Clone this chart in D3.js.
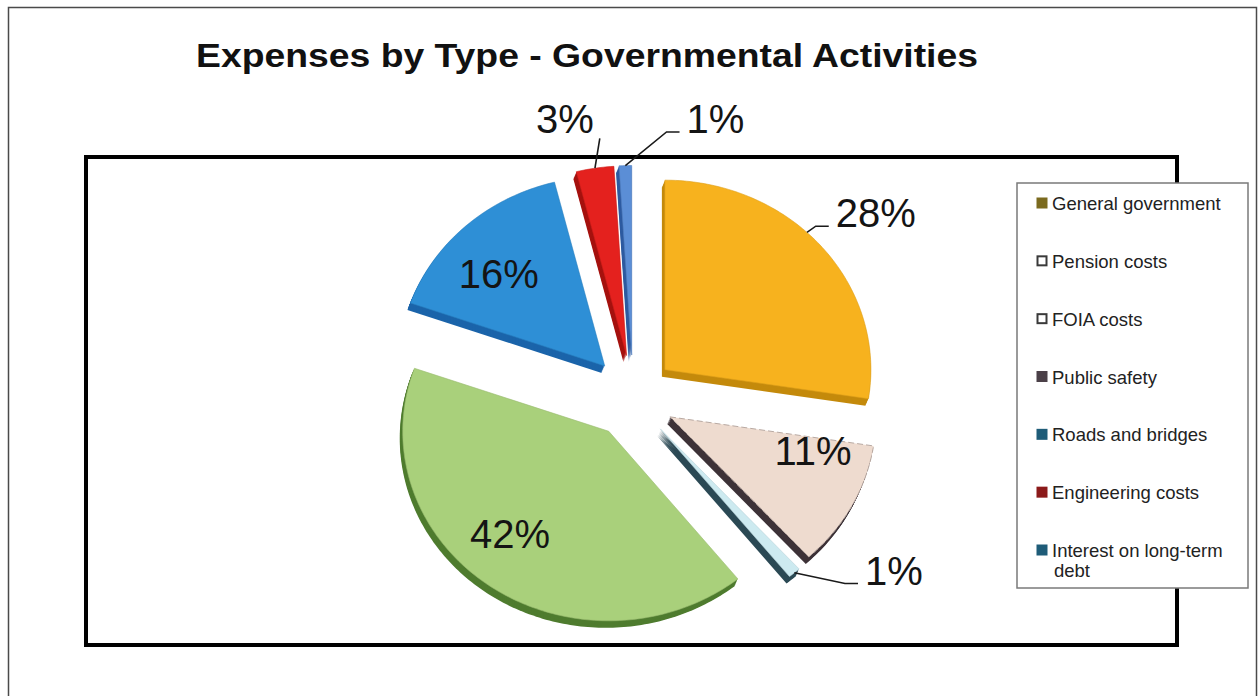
<!DOCTYPE html>
<html><head><meta charset="utf-8">
<script src="https://cdn.jsdelivr.net/npm/d3@7"></script>
<style>html,body{margin:0;padding:0;background:#fff;} svg{display:block;}</style>
</head><body><svg id="c" width="1260" height="696"></svg>
<script>
// ---------------- data ----------------
const title = "Expenses by Type - Governmental Activities";
const categories = ["General government","Pension costs","FOIA costs","Public safety","Roads and bridges","Engineering costs","Interest on long-term debt"];
const values = [28, 11, 1, 42, 16, 3, 1];
const valueLabels = ["28%","11%","1%","42%","16%","3%","1%"];
const legendLines = [["General government"],["Pension costs"],["FOIA costs"],["Public safety"],["Roads and bridges"],["Engineering costs"],["Interest on long-term","debt"]];

// ---------------- styles ----------------
const topColors  = ["#F7B21E","#EEDBCF","#CDEAF0","#A9D07B","#2E8FD6","#E4211E","#5B8ED6"];
const sideColors = ["#C48A0C","#3E3338","#2C4A55","#4F7C2F","#1B64AA","#A5120F","#2E5BA0"];
const legendFill = ["#7B6A1E","#FFFFFF","#FFFFFF","#4B4048","#1E5C78","#8B1A1A","#1E5C78"];
const legendStroke=["#7B6A1E","#3a3a3a","#3a3a3a","#4B4048","#1E5C78","#8B1A1A","#1E5C78"];

// label layout: angle offset (deg) from slice mid-angle and radius factor
const labelLayout = [
  {off: 4.3,  rf:1.27,  leader:"left",  startOff:-5.8},
  {off:-8,    rf:0.74,  leader:null},
  {off:-13.5, rf:1.40,  leader:"left",  startOff:0},
  {off: 2.6,  rf:0.78,  leader:null},
  {off:-8.8,  rf:0.66,  leader:null},
  {off:-5.5,  rf:1.21,  leader:"below", startOff:0},
  {off:20.9,  rf:1.24,  leader:"left",  startOff:0}
];

const svg = d3.select("#c");
const W = 1260, H = 696;
svg.append("rect").attr("width",W).attr("height",H).attr("fill","#fff");
// outer frame
svg.append("rect").attr("x",8.5).attr("y",7.5).attr("width",1248).attr("height",720)
  .attr("fill","none").attr("stroke","#4a4a4a").attr("stroke-width",1.5);

// title
svg.append("text").attr("x",587).attr("y",67).attr("text-anchor","middle")
  .attr("font-family","'Liberation Sans', Arial, sans-serif").attr("font-weight","bold")
  .attr("font-size",34).attr("fill","#111")
  .attr("textLength",782).attr("lengthAdjust","spacingAndGlyphs").text(title);

// plot area
svg.append("rect").attr("x",86).attr("y",157).attr("width",1091).attr("height",488)
  .attr("fill","#fff").attr("stroke","#000").attr("stroke-width",4);

// ---------------- pie ----------------
const C = [633, 397], R = 206, SY = 0.92, EXPLODE = 42, DX = -3, DY = 7, STEPS = 8;
const arcs = d3.pie().sort(null).value(d => d)(values);
const rad = d3.scaleLinear().domain([0,360]).range([0, 2*Math.PI]);

function origin(a){
  const m = (a.startAngle + a.endAngle)/2;
  return [C[0] + EXPLODE*Math.sin(m), C[1] - EXPLODE*Math.cos(m)];
}
function pt(O, th, r){ return [O[0] + r*Math.sin(th), O[1] - r*Math.cos(th)*SY]; }
function slicePts(a){
  const O = origin(a), pts = [O];
  const n = Math.max(4, Math.ceil((a.endAngle - a.startAngle)/rad(1)));
  for(let i=0;i<=n;i++){
    const th = a.startAngle + (a.endAngle - a.startAngle)*i/n;
    pts.push(pt(O, th, R));
  }
  return pts;
}
const line = d3.line().curve(d3.curveLinearClosed);

const gSide = svg.append("g"), gTop = svg.append("g");
arcs.forEach((a,i) => {
  const pts = slicePts(a);
  for(let k=STEPS;k>=1;k--){
    const f = k/STEPS;
    gSide.append("path").attr("d", line(pts.map(p=>[p[0]+DX*f, p[1]+DY*f])))
      .attr("fill", sideColors[i]);
  }
  gTop.append("path").attr("d", line(pts)).attr("fill", topColors[i])
    .attr("stroke", i===1 ? "#b9aaa3" : d3.color(topColors[i]).darker(0.3))
    .attr("stroke-width", i===1 ? 1 : 0.6)
    .attr("stroke-dasharray", i===1 ? "6,3" : null);
});

// ---------------- labels ----------------
const gLab = svg.append("g");
arcs.forEach((a,i) => {
  const L = labelLayout[i];
  const O = origin(a), m = (a.startAngle + a.endAngle)/2;
  const p = pt(O, m + rad(L.off), R*L.rf);
  const t = gLab.append("text").attr("x",p[0]).attr("y",p[1]).attr("text-anchor","middle")
    .attr("font-family","'Liberation Sans', Arial, sans-serif").attr("font-size",40)
    .attr("fill","#141414").text(valueLabels[i]);
  if(L.leader){
    const w = t.node().getComputedTextLength();
    const S = pt(O, m + rad(L.startOff), R);
    let path;
    if(L.leader === "left"){
      const E = [p[0] - w/2 - 7, p[1] - 1];
      const B = [E[0] - 13, E[1]];
      path = d3.line()([S, B, E]);
    } else {
      const E = [p[0] + w/2 + 6, p[1] + 5];
      path = d3.line()([S, E]);
    }
    gLab.insert("path","text").attr("d",path).attr("fill","none")
      .attr("stroke","#1a1a1a").attr("stroke-width",1.6);
  }
});

// ---------------- legend ----------------
const lg = svg.append("g");
lg.append("rect").attr("x",1017).attr("y",183).attr("width",231).attr("height",405)
  .attr("fill","#fff").attr("stroke","#7a7a7a").attr("stroke-width",1.5);
const rowY = d3.scalePoint().domain(categories).range([210, 557]);
categories.forEach((c,i) => {
  const y = rowY(c);
  lg.append("rect").attr("x",1037.5).attr("y",y-11.5).attr("width",9).attr("height",9)
    .attr("fill",legendFill[i]).attr("stroke",legendStroke[i]).attr("stroke-width",2);
  const t = lg.append("text").attr("x",1052).attr("y",y)
    .attr("font-family","'Liberation Sans', Arial, sans-serif").attr("font-size",18.5)
    .attr("fill","#222");
  legendLines[i].forEach((s,j) => {
    t.append("tspan").attr("x", j===0 ? 1052 : 1054).attr("dy", j===0 ? 0 : 20).text(s);
  });
});
</script></body></html>
